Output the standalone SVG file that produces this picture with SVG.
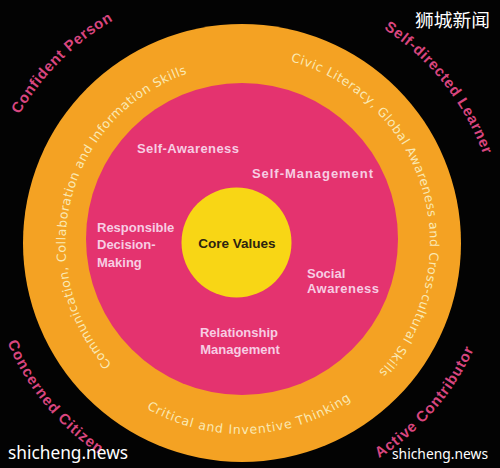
<svg xmlns="http://www.w3.org/2000/svg" width="500" height="468" viewBox="0 0 500 468">
<style>
.ring{font-family:"DejaVu Sans","Liberation Sans",sans-serif;font-size:12.5px;fill:#fae9b4}
.outer{font-family:"Liberation Sans",Arial,sans-serif;font-size:15px;font-weight:bold;fill:#d9467f}
.inner{font-family:"Liberation Sans",Arial,sans-serif;font-size:13px;font-weight:bold;fill:#f7cde3}
.core{font-family:"Liberation Sans",Arial,sans-serif;font-size:13.5px;font-weight:bold;fill:#2d2410}
.wm{font-family:"Noto Sans","Open Sans",sans-serif;fill:#ffffff}
</style>
<defs>
<path id="pLeft" d="M111.8,364.4 A180,180 0 0 1 187.0,73.7"/>
<path id="pRight" d="M290.7,61.4 A188,188 0 0 1 377.2,373.6"/>
<path id="pBottom" d="M146.5,408.4 A191,191 0 0 0 352.9,398.5"/>
<path id="pConf" d="M19.4,114.5 A257,257 0 0 1 113.5,20.4"/>
<path id="pSelf" d="M383.8,28.7 A257,257 0 0 1 483.5,155.1"/>
<path id="pConc" d="M7.3,342.6 A255,255 0 0 0 99.4,454.4"/>
<path id="pAct" d="M379.0,458.1 A255,255 0 0 0 474.1,348.7"/>
</defs>
<rect width="500" height="468" fill="#030303"/>
<g id="outer-ring">
<circle cx="242" cy="243" r="219" fill="#f4a223"/>
<text class="ring"><textPath href="#pLeft" textLength="355" lengthAdjust="spacing">Communication, Collaboration and Information Skills</textPath></text>
<text class="ring"><textPath href="#pRight" textLength="388" lengthAdjust="spacing">Civic Literacy, Global Awareness and Cross-cultural Skills</textPath></text>
<text class="ring"><textPath href="#pBottom" textLength="216" lengthAdjust="spacing">Critical and Inventive Thinking</textPath></text>
</g>
<g id="middle-ring">
<circle cx="242" cy="239" r="156" fill="#e4336f"/>
<text class="inner" x="137" y="153" textLength="102" lengthAdjust="spacing">Self-Awareness</text>
<text class="inner" x="252" y="178" textLength="121" lengthAdjust="spacing">Self-Management</text>
<text class="inner" x="97" y="232">Responsible</text>
<text class="inner" x="97" y="249">Decision-</text>
<text class="inner" x="97" y="267">Making</text>
<text class="inner" x="307" y="278">Social</text>
<text class="inner" x="307" y="293" textLength="72" lengthAdjust="spacing">Awareness</text>
<text class="inner" x="239" y="337" text-anchor="middle">Relationship</text>
<text class="inner" x="240" y="354" text-anchor="middle">Management</text>
</g>
<g id="core">
<circle cx="236.5" cy="242.5" r="55" fill="#f8d615"/>
<text class="core" x="237" y="248" text-anchor="middle">Core Values</text>
</g>
<g id="outcomes">
<text class="outer"><textPath href="#pConf" textLength="134" lengthAdjust="spacing">Confident Person</textPath></text>
<text class="outer"><textPath href="#pSelf" textLength="163" lengthAdjust="spacing">Self-directed Learner</textPath></text>
<text class="outer"><textPath href="#pConc" textLength="146" lengthAdjust="spacing">Concerned Citizen</textPath></text>
<text class="outer"><textPath href="#pAct" textLength="146" lengthAdjust="spacing">Active Contributor</textPath></text>
</g>
<g id="watermarks">
<text class="wm" x="415" y="27" font-size="18" style="font-family:'Noto Sans CJK SC',sans-serif" textLength="75" lengthAdjust="spacingAndGlyphs">狮城新闻</text>
<text class="wm" x="8" y="459" font-size="18" textLength="120" lengthAdjust="spacingAndGlyphs">shicheng.news</text>
<text class="wm" x="392" y="459" font-size="14.5" textLength="96" lengthAdjust="spacingAndGlyphs">shicheng.news</text>
</g>
</svg>
